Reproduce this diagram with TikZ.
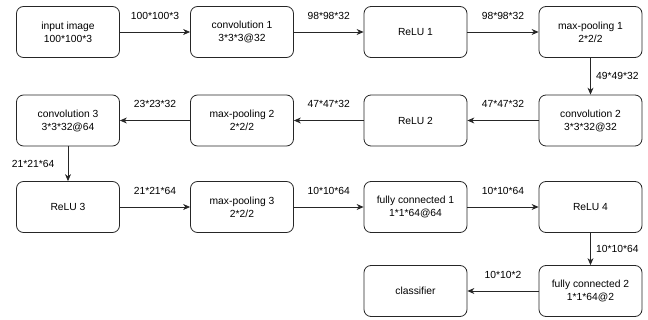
\documentclass[tikz,border=0pt]{standalone}
\usepackage{fontspec}
\setmainfont{Liberation Sans}
\usetikzlibrary{arrows.meta}
\begin{document}
\begin{tikzpicture}[x=1pt,y=1pt,
    layer/.style={draw=black!85, line width=0.8pt, rounded corners=7pt, minimum width=103pt, minimum height=51pt, align=center, font=\fontsize{10.3}{13}\selectfont},
    flow/.style={draw=black!85, line width=0.8pt, -{Stealth[length=7pt,width=6pt]}},
    size/.style={font=\fontsize{10.3}{13}\selectfont}]
    \useasboundingbox (0,0) rectangle (648,-320);
    % row 1
    \node[layer] (input) at (68,-32) {input image\\100*100*3};
    \node[layer] (conv1) at (242,-32) {convolution 1\\3*3*3@32};
    \node[layer] (relu1) at (415.5,-32) {ReLU 1};
    \node[layer] (pool1) at (590.5,-32) {max-pooling 1\\2*2/2};
    % row 2, read right to left
    \node[layer] (conv2) at (590.5,-120.5) {convolution 2\\3*3*32@32};
    \node[layer] (relu2) at (415.5,-120.5) {ReLU 2};
    \node[layer] (pool2) at (242,-120.5) {max-pooling 2\\2*2/2};
    \node[layer] (conv3) at (68,-120.5) {convolution 3\\3*3*32@64};
    % row 3
    \node[layer] (relu3) at (68,-207) {ReLU 3};
    \node[layer] (pool3) at (242,-207) {max-pooling 3\\2*2/2};
    \node[layer] (fc1) at (415.5,-207) {fully connected 1\\1*1*64@64};
    \node[layer] (relu4) at (590.5,-207) {ReLU 4};
    % row 4
    \node[layer] (fc2) at (590.5,-291) {fully connected 2\\1*1*64@2};
    \node[layer] (cls) at (415.5,-291) {classifier};

    \draw[flow] (input) -- node[size, above=9pt] {100*100*3} (conv1);
    \draw[flow] (conv1) -- node[size, above=9pt] {98*98*32} (relu1);
    \draw[flow] (relu1) -- node[size, above=9pt] {98*98*32} (pool1);
    \draw[flow] (pool1) -- node[size, right=2pt] {49*49*32} (conv2);
    \draw[flow] (conv2) -- node[size, above=9pt] {47*47*32} (relu2);
    \draw[flow] (relu2) -- node[size, above=9pt] {47*47*32} (pool2);
    \draw[flow] (pool2) -- node[size, above=9pt] {23*23*32} (conv3);
    \draw[flow] (conv3) -- node[size, left=10pt] {21*21*64} (relu3); % label sits left of the arrow
    \draw[flow] (relu3) -- node[size, above=9pt] {21*21*64} (pool3);
    \draw[flow] (pool3) -- node[size, above=9pt] {10*10*64} (fc1);
    \draw[flow] (fc1) -- node[size, above=9pt] {10*10*64} (relu4);
    \draw[flow] (relu4) -- node[size, right=2pt] {10*10*64} (fc2);
    \draw[flow] (fc2) -- node[size, above=9pt] {10*10*2} (cls);
\end{tikzpicture}
\end{document}
